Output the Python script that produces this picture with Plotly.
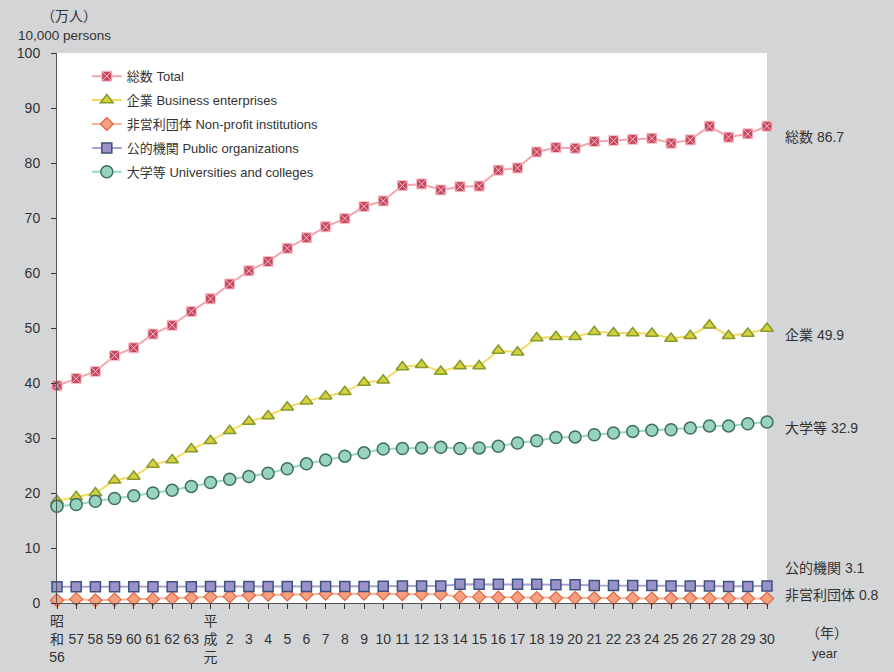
import plotly.graph_objects as go

categories = ["S56", "S57", "S58", "S59", "S60", "S61", "S62", "S63", "H1"] + [f"H{i}" for i in range(2, 31)]
tick_labels = ["昭<br>和<br>56", " <br>57", " <br>58", " <br>59", " <br>60", " <br>61", " <br>62", " <br>63",
               "平<br>成<br>元"] + [f" <br>{i}" for i in range(2, 31)]

total = [39.5, 40.8, 42.1, 45.0, 46.4, 48.9, 50.5, 53.0, 55.3, 58.0, 60.4, 62.1, 64.5, 66.4, 68.4, 69.9,
         72.1, 73.1, 75.9, 76.2, 75.1, 75.7, 75.8, 78.7, 79.1, 82.0, 82.8, 82.7, 83.9, 84.1, 84.3, 84.5,
         83.6, 84.2, 86.7, 84.7, 85.3, 86.7]
business = [18.6, 19.3, 20.0, 22.3, 23.0, 25.2, 26.0, 28.0, 29.5, 31.3, 33.0, 34.0, 35.6, 36.7, 37.6, 38.4,
            40.1, 40.5, 42.9, 43.3, 42.1, 43.1, 43.1, 45.9, 45.6, 48.2, 48.4, 48.4, 49.3, 49.1, 49.1, 49.0,
            48.1, 48.6, 50.5, 48.6, 49.0, 49.9]
nonprofit = [0.5, 0.7, 0.5, 0.6, 0.7, 0.7, 0.85, 0.95, 1.1, 1.2, 1.4, 1.5, 1.55, 1.55, 1.7, 1.65, 1.7, 1.7,
             1.6, 1.6, 1.6, 1.15, 1.1, 1.0, 1.0, 0.9, 0.9, 0.9, 0.9, 0.85, 0.85, 0.8, 0.8, 0.85, 0.8, 0.8,
             0.8, 0.8]
public = [2.95, 2.95, 2.95, 2.95, 2.95, 2.95, 2.95, 2.95, 3.0, 3.0, 3.0, 3.0, 3.0, 3.0, 3.0, 3.0, 3.0, 3.05,
          3.1, 3.1, 3.1, 3.4, 3.4, 3.4, 3.4, 3.4, 3.3, 3.3, 3.2, 3.2, 3.2, 3.2, 3.1, 3.1, 3.1, 3.0, 3.0, 3.1]
university = [17.6, 17.9, 18.5, 19.0, 19.5, 20.0, 20.5, 21.2, 21.9, 22.5, 23.0, 23.6, 24.4, 25.3, 26.0, 26.7,
              27.3, 28.0, 28.1, 28.2, 28.3, 28.1, 28.2, 28.5, 29.1, 29.5, 30.1, 30.2, 30.6, 30.9, 31.2, 31.4,
              31.5, 31.8, 32.2, 32.2, 32.6, 32.9]

series_names = ["総数 Total", "企業 Business enterprises", "非営利団体 Non-profit institutions",
                "公的機関 Public organizations", "大学等 Universities and colleges"]
end_labels = ["総数 86.7", "企業 49.9", "非営利団体 0.8", "公的機関 3.1", "大学等 32.9"]

FONT = "Liberation Sans, Arial, Noto Sans CJK JP, sans-serif"

styles = [
    dict(line=dict(color="#f4a4ae", width=2),
         marker=dict(symbol="square-x", size=10, color="#c9475f", line=dict(color="#f5c4cb", width=1))),
    dict(line=dict(color="#f2dc64", width=2),
         marker=dict(symbol="triangle-up", size=11, color="#d8cf3c", line=dict(color="#849a2c", width=1.5))),
    dict(line=dict(color="#f8b49a", width=2),
         marker=dict(symbol="diamond", size=10, color="#f7a080", line=dict(color="#e4633e", width=1.2))),
    dict(line=dict(color="#aaa2d4", width=2),
         marker=dict(symbol="square", size=10, color="#9a92c8", line=dict(color="#3c527e", width=1.5))),
    dict(line=dict(color="#98d8c4", width=2),
         marker=dict(symbol="circle", size=12, color="#98d2c0", line=dict(color="#3f6e60", width=1.5))),
]

data = [total, business, nonprofit, public, university]

fig = go.Figure()
for i, (name, vals, st) in enumerate(zip(series_names, data, styles)):
    fig.add_trace(go.Scatter(x=categories, y=vals, name=name, mode="lines+markers", legendgroup=f"g{i}",
                             line=st["line"], marker=st["marker"], cliponaxis=False))

shifts = [-11, -6, 4, 18, -6]
for lbl, vals, ys in zip(end_labels, data, shifts):
    fig.add_annotation(x=categories[-1], y=vals[-1], text=lbl, showarrow=False, xanchor="left",
                       xshift=16, yshift=ys, font=dict(family=FONT, size=14, color="#333333"))

fig.add_annotation(xref="paper", yref="paper", x=-0.025, y=1.067, text="（万人）", showarrow=False,
                   xanchor="left", yanchor="middle", font=dict(family=FONT, size=14, color="#333333"))
fig.add_annotation(xref="paper", yref="paper", x=-0.058, y=1.031, text="10,000 persons", showarrow=False,
                   xanchor="left", yanchor="middle", font=dict(family=FONT, size=13.5, color="#333333"))
fig.add_annotation(xref="paper", yref="paper", x=1.052, y=-0.055, text="（年）", showarrow=False,
                   xanchor="left", yanchor="middle", font=dict(family=FONT, size=14, color="#333333"))
fig.add_annotation(xref="paper", yref="paper", x=1.06, y=-0.091, text="year", showarrow=False,
                   xanchor="left", yanchor="middle", font=dict(family=FONT, size=13, color="#333333"))

fig.update_layout(
    width=894, height=672,
    margin=dict(l=57, r=127, t=53, b=69),
    paper_bgcolor="#d4d5d7", plot_bgcolor="#ffffff",
    font=dict(family=FONT, size=13, color="#333333"),
    showlegend=True,
    legend=dict(x=0.042, y=0.985, xanchor="left", yanchor="top", bgcolor="rgba(0,0,0,0)",
                font=dict(family=FONT, size=13, color="#333333"), tracegroupgap=4,
                itemwidth=30),
)
fig.update_xaxes(type="category", range=[0, len(categories) - 1], tickmode="array", tickvals=categories,
                 ticktext=tick_labels, ticks="outside", ticklen=5, tickcolor="#333333", showline=True,
                 linecolor="#555555", linewidth=1, showgrid=False, zeroline=False, tickangle=0,
                 automargin=False, tickfont=dict(family=FONT, size=14, color="#333333"))
fig.update_yaxes(range=[0, 100], dtick=10, ticks="outside", ticklen=5, tickcolor="#333333", showline=True,
                 linecolor="#555555", linewidth=1, showgrid=False, zeroline=False, ticklabelstandoff=8,
                 automargin=False, tickfont=dict(family=FONT, size=14, color="#333333"))

fig.write_html("out.html", post_script="document.body.style.margin='0px';",
               config={"displayModeBar": False})
